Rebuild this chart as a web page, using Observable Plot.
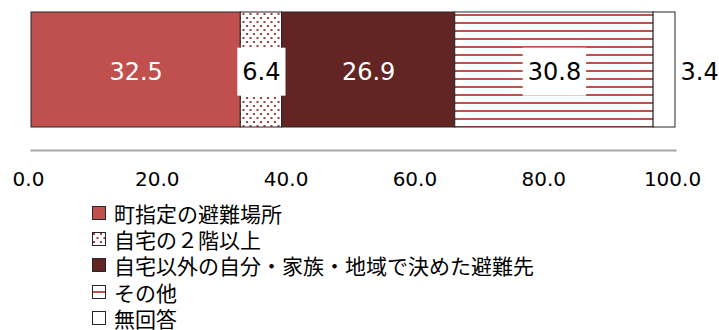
<!DOCTYPE html>
<html><head><meta charset="utf-8">
<script src="https://cdn.jsdelivr.net/npm/d3@7"></script>
<script src="https://cdn.jsdelivr.net/npm/@observablehq/plot@0.6"></script>
<style>
body{margin:0;background:#fff;}
#chart{position:absolute;left:0;top:0;}
#legend{position:absolute;left:92px;top:200px;font-family:"Noto Sans CJK JP","Noto Sans",sans-serif;font-size:21px;color:#000;}
#legend div{display:flex;align-items:center;white-space:nowrap;height:26.2px;line-height:24px;overflow:visible;}
#legend svg{margin-right:8px;flex:none;}
</style></head><body><div id="chart"></div><div id="legend"></div>
<script>
// data
const categories = ["町指定の避難場所", "自宅の２階以上", "自宅以外の自分・家族・地域で決めた避難先", "その他", "無回答"];
const values = [32.5, 6.4, 26.9, 30.8, 3.4];
const tickValues = [0, 20, 40, 60, 80, 100];
const rowName = "全体";

// styles
const fills = ["#C0504D", "url(#pat-dots)", "#632523", "url(#pat-stripes)", "#FFFFFF"];
const labelMode = ["white", "boxed", "white", "boxed", "outside"];

const data = categories.map((c, i) => ({cat: c, value: values[i], row: rowName, mode: labelMode[i]}));
const fmt = d3.format(".1f");

const plot = Plot.plot({
  width: 719, height: 200,
  marginLeft: 31, marginRight: 44, marginTop: 12, marginBottom: 73,
  style: {fontFamily: "'DejaVu Sans', sans-serif", background: "#fff"},
  x: {domain: [0, 100]},
  y: {domain: [rowName], axis: null, padding: 0},
  color: {domain: categories, range: fills},
  marks: [
    Plot.barX(data, Plot.stackX({x: "value", y: "row", fill: "cat", stroke: "#262626", strokeWidth: 1, order: null})),
    Plot.frame({anchor: "bottom", stroke: "#A6A6A6", strokeWidth: 2, dy: 23}),
    Plot.axisX({ticks: tickValues, tickFormat: fmt, tickSize: 0, tickPadding: 44, fontSize: 20, dx: -3, fill: "#000", label: null}),
    Plot.text(data, Plot.stackX({x: "value", y: "row", order: null, text: d => d.mode === "white" ? fmt(d.value) : null, fill: "#fff", fontSize: 24, dy: 2})),
    Plot.text(data, Plot.stackX({x: "value", y: "row", order: null, text: d => d.mode === "boxed" ? fmt(d.value) : null, fill: "#000", fontSize: 24, dy: 2, className: "boxed-labels"})),
    Plot.text(data, Plot.stackX2({x: "value", y: "row", order: null, text: d => d.mode === "outside" ? fmt(d.value) : null, fill: "#000", fontSize: 24, dy: 2, dx: 5, textAnchor: "start"}))
  ]
});

// patterns
const svg = d3.select(plot);
const defs = svg.insert("defs", ":first-child");
const pd = defs.append("pattern").attr("id", "pat-dots").attr("patternUnits", "userSpaceOnUse").attr("width", 7).attr("height", 8);
pd.append("rect").attr("width", 7).attr("height", 8).attr("fill", "#fff");
pd.append("rect").attr("x", 1).attr("y", 1).attr("width", 2).attr("height", 2).attr("fill", "#A0403C");
pd.append("rect").attr("x", 4.5).attr("y", 5).attr("width", 2).attr("height", 2).attr("fill", "#A0403C");
const ps = defs.append("pattern").attr("id", "pat-stripes").attr("patternUnits", "userSpaceOnUse").attr("width", 8).attr("height", 8);
ps.append("rect").attr("width", 8).attr("height", 8).attr("fill", "#fff");
ps.append("rect").attr("x", 0).attr("y", 6).attr("width", 8).attr("height", 2).attr("fill", "#C0504D");

document.getElementById("chart").appendChild(plot);

// white boxes behind boxed labels
let boxed = svg.selectAll("g.boxed-labels text");
if (boxed.empty()) {
  const want = new Set(data.filter(d => d.mode === "boxed").map(d => fmt(d.value)));
  boxed = svg.selectAll("text").filter(function() { return want.has(this.textContent) && this.closest('g[aria-label="x-axis tick label"]') == null; });
}
boxed.each(function() {
  const b = this.getBBox();
  const cy = b.y + b.height / 2;
  const parent = this.parentNode;
  const r = document.createElementNS("http://www.w3.org/2000/svg", "rect");
  r.setAttribute("x", b.x - 5); r.setAttribute("y", cy - 24);
  r.setAttribute("width", b.width + 10); r.setAttribute("height", 48);
  r.setAttribute("fill", "#fff");
  if (this.getAttribute("transform")) r.setAttribute("transform", this.getAttribute("transform"));
  parent.insertBefore(r, this);
});

// legend
const legend = d3.select("#legend");
categories.forEach((c, i) => {
  const row = legend.append("div");
  const s = row.append("svg").attr("width", 14).attr("height", 14);
  if (i === 3) {
    s.append("rect").attr("x", 0.5).attr("y", 0.5).attr("width", 13).attr("height", 13).attr("fill", "#fff").attr("stroke", "#262626");
    s.append("rect").attr("x", 1).attr("y", 6).attr("width", 12).attr("height", 2).attr("fill", "#C0504D");
  } else {
    s.append("rect").attr("x", 0.5).attr("y", 0.5).attr("width", 13).attr("height", 13).attr("fill", fills[i]).attr("stroke", "#262626");
  }
  row.append("span").text(c);
});
</script></body></html>
